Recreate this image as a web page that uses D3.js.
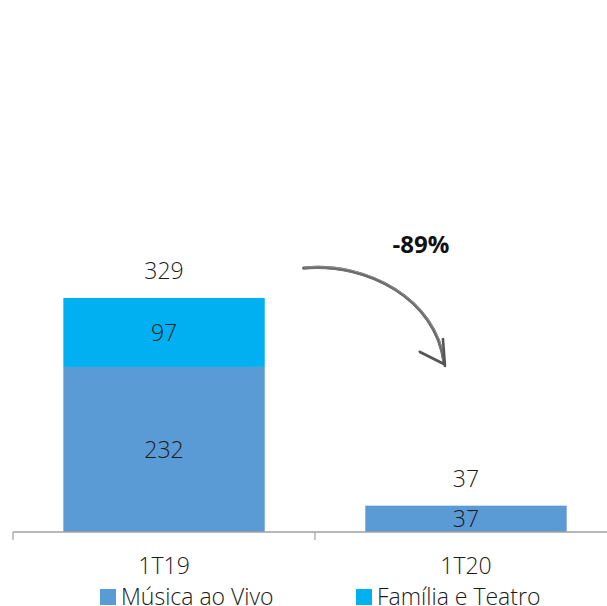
<!DOCTYPE html>
<html>
<head>
<meta charset="utf-8">
<script src="https://cdn.jsdelivr.net/npm/d3@7"></script>
<style>
  body { margin: 0; background: #fff; }
  text { font-family: "Open Sans", sans-serif; }
</style>
</head>
<body>
<svg width="607" height="606"></svg>
<script>
var categories = ["1T19", "1T20"];
var series = ["Música ao Vivo", "Família e Teatro"];
var musica = [232, 37];
var familia = [97, 0];
var totals = [329, 37];
var change = "-89%";

var colors = ["#5b9bd5", "#00b0f0"];

var svg = d3.select("svg");

var x = d3.scaleBand()
    .domain(categories)
    .range([13, 617])
    .paddingInner(0.333)
    .paddingOuter(0.1667);

var y = d3.scaleLinear()
    .domain([0, 700])
    .range([532, 34]);

var rows = categories.map(function(c, i) {
  return { cat: c, vals: [musica[i], familia[i]], total: totals[i] };
});

var stack = d3.stack().keys([0, 1]).value(function(d, k) { return d.vals[k]; });
var layers = stack(rows);

// bars
svg.append("g").selectAll("g")
    .data(layers)
  .enter().append("g")
    .attr("fill", function(d) { return colors[d.key]; })
  .selectAll("rect")
    .data(function(d) { return d; })
  .enter().append("rect")
    .attr("x", function(d) { return x(d.data.cat); })
    .attr("width", x.bandwidth())
    .attr("y", function(d) { return y(d[1]); })
    .attr("height", function(d) { return y(d[0]) - y(d[1]); });

// segment labels (zero values show as a small dash, like the reference)
layers.forEach(function(layer) {
  svg.append("g").selectAll("text")
      .data(layer)
    .enter().append("text")
      .attr("x", function(d) {
        var v = d[1] - d[0];
        return x(d.data.cat) + x.bandwidth() / 2 + (v > 0 ? 0 : 5);
      })
      .attr("y", function(d) {
        var v = d[1] - d[0];
        return v > 0 ? (y(d[0]) + y(d[1])) / 2 : y(d[1]) + 3;
      })
      .attr("dy", "0.36em")
      .attr("text-anchor", "middle")
      .style("font-size", function(d) { return d[1] - d[0] > 0 ? "23px" : "17px"; })
      .style("font-weight", function(d) { return d[1] - d[0] > 0 ? 300 : 400; })
      .attr("fill", "#1a1a1a")
      .text(function(d) {
        var v = d[1] - d[0];
        return v > 0 ? v : "-";
      });
});

// totals
svg.append("g").selectAll("text")
    .data(rows)
  .enter().append("text")
    .attr("x", function(d) { return x(d.cat) + x.bandwidth() / 2; })
    .attr("y", function(d) { return y(d.total) - 27; })
    .attr("dy", "0.36em")
    .attr("text-anchor", "middle")
    .style("font-size", "23px")
    .style("font-weight", 300)
    .attr("fill", "#1a1a1a")
    .text(function(d) { return d.total; });

// axis
var axis = svg.append("g")
    .attr("transform", "translate(0," + y(0) + ")")
    .call(d3.axisBottom(x).tickSize(0).tickPadding(0));
axis.select(".domain").remove();
axis.append("line").attr("x1", 13).attr("x2", 607).attr("stroke", "#a0a0a0").attr("stroke-width", 1.5);
axis.selectAll(".sep")
    .data([13, 13 + x.step()])
  .enter().append("line")
    .attr("x1", function(d) { return d; }).attr("x2", function(d) { return d; })
    .attr("y1", 0).attr("y2", 8)
    .attr("stroke", "#a0a0a0").attr("stroke-width", 1.2);
axis.selectAll(".tick text")
    .attr("y", 34)
    .attr("dy", "0.36em")
    .style("font-size", "23px")
    .style("font-weight", 300)
    .style("font-family", "'Open Sans', sans-serif")
    .attr("fill", "#1a1a1a");

// change arrow
var x0 = x(categories[0]) + x.bandwidth() + 39,
    x1 = x(categories[1]) + x.bandwidth() / 2 - 22;
var arrow = svg.append("g").attr("fill", "none").attr("stroke-linecap", "round");
[[0, 0, "#555", 3], [0.8, -0.9, "#8a8a8a", 1.3], [-0.7, 1, "#777", 1.1]].forEach(function(s) {
  arrow.append("path")
      .attr("d", "M" + (x0 + s[0]) + "," + (268 + s[1]) +
        " C" + (x0 + 65) + "," + (262 + s[1]) + " " + (x1 - 8 + s[0]) + "," + 300 + " " + (x1 + s[0]) + "," + (362 + s[1]))
      .attr("stroke", s[2])
      .attr("stroke-width", s[3]);
});
arrow.append("path")
    .attr("d", "M" + (x1 - 1) + "," + 339 + " L" + (x1 + 1) + "," + 366)
    .attr("stroke", "#555").attr("stroke-width", 2.6);
arrow.append("path")
    .attr("d", "M" + (x1 - 24) + "," + 352 + " L" + x1 + "," + 364)
    .attr("stroke", "#555").attr("stroke-width", 2.8);

svg.append("text")
    .attr("x", 421)
    .attr("y", 244)
    .attr("dy", "0.36em")
    .attr("text-anchor", "middle")
    .style("font-size", "24px")
    .style("font-weight", 700)
    .attr("fill", "#111")
    .text(change);

// legend
var legend = svg.append("g").selectAll("g")
    .data(series)
  .enter().append("g")
    .attr("transform", function(d, i) { return "translate(" + [100, 356][i] + ",597)"; });
legend.append("rect")
    .attr("x", 0).attr("y", -8)
    .attr("width", 16).attr("height", 16)
    .attr("fill", function(d, i) { return colors[i]; });
legend.append("text")
    .attr("x", 21)
    .attr("dy", "0.36em")
    .style("font-size", "23px")
    .style("font-weight", 300)
    .attr("fill", "#1a1a1a")
    .text(function(d) { return d; });
</script>
</body>
</html>
